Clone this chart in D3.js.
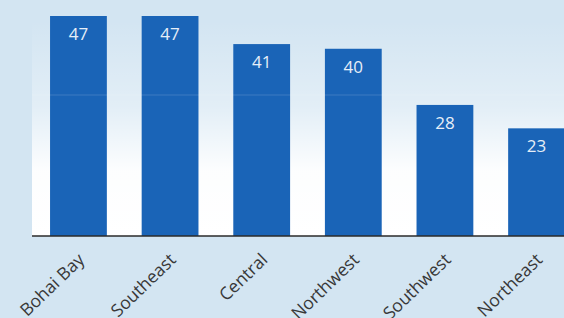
<!DOCTYPE html>
<html>
<head>
<meta charset="utf-8">
<script src="https://cdn.jsdelivr.net/npm/d3@7"></script>
<style>
	html, body { margin: 0; padding: 0; }
	body { width: 564px; height: 318px; overflow: hidden; background: #d3e5f2; }
</style>
</head>
<body>
<div id="chart"></div>
<script>
const regions = ["Bohai Bay", "Southeast", "Central", "Northwest", "Southwest", "Northeast"];
const values = [47, 47, 41, 40, 28, 23];

const width = 564;
const height = 318;
const baseY = 236;

const svg = d3.select("#chart")
	.append("svg")
	.attr("width", width)
	.attr("height", height);

const defs = svg.append("defs");
const grad = defs.append("linearGradient")
	.attr("id", "plotbg")
	.attr("x1", 0).attr("y1", 0).attr("x2", 0).attr("y2", 1);
grad.append("stop").attr("offset", "0%").attr("stop-color", "#ffffff").attr("stop-opacity", 0);
grad.append("stop").attr("offset", "40%").attr("stop-color", "#ffffff").attr("stop-opacity", 0.35);
grad.append("stop").attr("offset", "70%").attr("stop-color", "#ffffff").attr("stop-opacity", 0.95);
grad.append("stop").attr("offset", "100%").attr("stop-color", "#ffffff").attr("stop-opacity", 1);

const xscale = d3.scaleBand()
	.domain(regions)
	.range([32, 583])
	.paddingInner(0.38)
	.paddingOuter(0.197);

const yscale = d3.scaleLinear()
	.domain([0, 47])
	.range([baseY, 16]);

// white-ish plot area behind the bars
svg.append("rect")
	.attr("x", 32)
	.attr("y", 20)
	.attr("width", width - 32)
	.attr("height", baseY - 20)
	.attr("fill", "url(#plotbg)");

svg.selectAll(".bar")
	.data(values)
	.enter()
	.append("rect")
	.attr("class", "bar")
	.attr("x", (d, i) => xscale(regions[i]))
	.attr("y", d => yscale(d))
	.attr("width", xscale.bandwidth())
	.attr("height", d => baseY - yscale(d))
	.attr("fill", "#1a64b7");

// faint scan line across the page
svg.append("line")
	.attr("x1", 32).attr("x2", width)
	.attr("y1", 95).attr("y2", 95)
	.attr("stroke", "#ffffff")
	.attr("stroke-opacity", 0.15);

svg.selectAll(".val")
	.data(values)
	.enter()
	.append("text")
	.attr("class", "val")
	.attr("x", (d, i) => xscale(regions[i]) + xscale.bandwidth() / 2)
	.attr("y", d => yscale(d) + 24)
	.attr("text-anchor", "middle")
	.attr("fill", "#e6eef8")
	.style("font-family", "'Open Sans', sans-serif")
	.style("font-size", "17px")
	.text(d => d);

const x_axis = d3.axisBottom()
	.scale(xscale)
	.tickSize(0)
	.tickPadding(0);

const axisG = svg.append("g")
	.attr("transform", "translate(0," + baseY + ")")
	.call(x_axis);

axisG.select(".domain").remove();
axisG.append("line")
	.attr("x1", 32).attr("x2", width)
	.attr("y1", 0).attr("y2", 0)
	.attr("stroke", "#2a2a2a")
	.attr("stroke-width", 1.5);

axisG.selectAll(".tick text")
	.attr("text-anchor", "end")
	.attr("dy", 0)
	.attr("transform", "translate(7,25) rotate(-44)")
	.attr("fill", "#383838")
	.style("font-family", "'Open Sans', sans-serif")
	.style("font-size", "17.5px");
</script>
</body>
</html>
